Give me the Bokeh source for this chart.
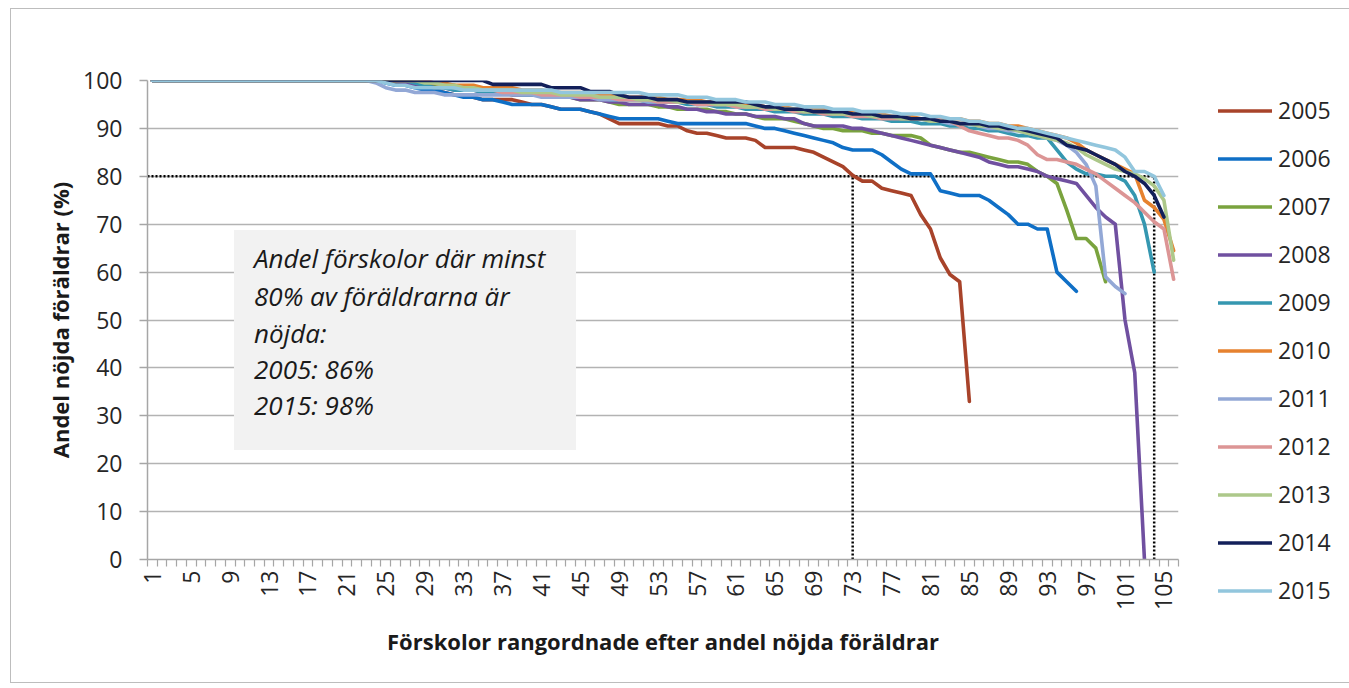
import math
from bokeh.plotting import figure
from bokeh.models import Range1d, FixedTicker, Legend, LegendItem, Label, BoxAnnotation
from bokeh.embed import file_html
from bokeh.resources import INLINE

# ---------------- data ----------------
years = ["2005", "2006", "2007", "2008", "2009", "2010", "2011", "2012", "2013", "2014", "2015"]
colors = ["#a8432a", "#0f6fc6", "#7aa33e", "#7050a0", "#3597b0", "#e6822f",
          "#93a8d6", "#dc9595", "#adc88a", "#13205a", "#92c6dd"]

y2005 = [100, 100, 100, 100, 100, 100, 100, 100, 100, 100,
         100, 100, 100, 100, 100, 100, 100, 100, 100, 100,
         100, 100, 100, 100, 100, 99.5, 99, 99, 98.5, 98,
         97.5, 97, 97, 96.5, 96, 96, 96, 96, 95.5, 95,
         95, 94.5, 94, 94, 94, 93.5, 93, 92, 91, 91,
         91, 91, 91, 90.5, 90.5, 89.5, 89, 89, 88.5, 88,
         88, 88, 87.5, 86, 86, 86, 86, 85.5, 85, 84,
         83, 82, 80.2, 79, 79, 77.5, 77, 76.5, 76, 72,
         69, 63, 59.5, 58, 33]
y2006 = [100, 100, 100, 100, 100, 100, 100, 100, 100, 100,
         100, 100, 100, 100, 100, 100, 100, 100, 100, 100,
         100, 100, 100, 100, 99.5, 99, 99, 98.5, 98, 98,
         97.5, 97, 96.5, 96.5, 96, 96, 95.5, 95, 95, 95,
         95, 94.5, 94, 94, 94, 93.5, 93, 92.5, 92, 92,
         92, 92, 92, 91.5, 91, 91, 91, 91, 91, 91,
         91, 91, 90.5, 90, 90, 89.5, 89, 88.5, 88, 87.5,
         87, 86, 85.5, 85.5, 85.5, 84.5, 83, 81.5, 80.5, 80.5,
         80.5, 77, 76.5, 76, 76, 76, 75, 73.5, 72, 70,
         70, 69, 69, 60, 58, 56]
y2007 = [100, 100, 100, 100, 100, 100, 100, 100, 100, 100,
         100, 100, 100, 100, 100, 100, 100, 100, 100, 100,
         100, 100, 100, 100, 100, 100, 100, 99.5, 99.5, 99,
         99, 99, 98.5, 98, 98, 97.5, 97.5, 97, 97, 97,
         97, 96.5, 96.5, 96.5, 96, 96, 96, 95.5, 95, 95,
         95, 95, 94.5, 94.5, 94, 94, 94, 94, 93.5, 93.5,
         93, 93, 92.5, 92, 92, 92, 91.5, 91, 90.5, 90,
         90, 89.5, 89.5, 89.5, 89, 89, 88.5, 88.5, 88.5, 88,
         86.5, 86, 85.5, 85, 85, 84.5, 84, 83.5, 83, 83,
         82.5, 81, 80, 78.5, 73, 67, 67, 65, 58]
y2008 = [100, 100, 100, 100, 100, 100, 100, 100, 100, 100,
         100, 100, 100, 100, 100, 100, 100, 100, 100, 100,
         100, 100, 100, 100, 100, 100, 99.5, 99, 99, 98.5,
         98.5, 98, 98, 98, 97.5, 97.5, 97.5, 97, 97, 97,
         97, 96.5, 96.5, 96.5, 96, 96, 96, 95.5, 95.5, 95,
         95, 95, 95, 94.5, 94.5, 94, 94, 93.5, 93.5, 93,
         93, 93, 92.5, 92.5, 92.5, 92, 92, 91, 90.5, 90.5,
         90.5, 90.5, 90, 90, 89.5, 89, 88.5, 88, 87.5, 87,
         86.5, 86, 85.5, 85, 84.5, 84, 83, 82.5, 82, 82,
         81.5, 81, 80, 79.5, 79, 78.5, 76, 73.5, 71.5, 70,
         50, 39, 0]
y2009 = [100, 100, 100, 100, 100, 100, 100, 100, 100, 100,
         100, 100, 100, 100, 100, 100, 100, 100, 100, 100,
         100, 100, 100, 100, 100, 100, 100, 99.5, 99, 98.5,
         98.5, 98, 98, 98, 97.5, 97.5, 97.5, 97.5, 97, 97,
         97, 97, 97, 96.5, 96.5, 96.5, 96.5, 96, 96, 96,
         96, 95.5, 95.5, 95.5, 95.5, 95, 95, 95, 94.5, 94.5,
         94.5, 94, 94, 94, 93.5, 93.5, 93.5, 93, 93, 93,
         92.5, 92.5, 92.5, 92, 92, 92, 91.5, 91.5, 91.5, 91,
         91, 91, 90.5, 90.5, 90, 90, 89.5, 89.5, 89, 88.5,
         88.5, 88, 88, 85.5, 83, 81.5, 80.5, 80.5, 80, 80,
         79, 76, 70, 60]
y2010 = [100, 100, 100, 100, 100, 100, 100, 100, 100, 100,
         100, 100, 100, 100, 100, 100, 100, 100, 100, 100,
         100, 100, 100, 100, 100, 100, 100, 100, 100, 99.5,
         99.5, 99, 99, 99, 98.5, 98.5, 98.5, 98.5, 98, 98,
         98, 97.5, 97.5, 97.5, 97.5, 97, 97, 97, 97, 96.5,
         96.5, 96.5, 96.5, 96, 96, 96, 96, 95.5, 95.5, 95.5,
         95, 95, 95, 94.5, 94.5, 94.5, 94, 94, 94, 94,
         93.5, 93.5, 93.5, 93, 93, 93, 92.5, 92.5, 92.5, 92,
         92, 92, 92, 92, 91.5, 91.5, 91, 91, 90.5, 90.5,
         90, 89.5, 89, 88.5, 88, 87, 85.5, 84.5, 83.5, 82.5,
         81.5, 80.5, 75, 73.5, 71, 64.5]
y2011 = [100, 100, 100, 100, 100, 100, 100, 100, 100, 100,
         100, 100, 100, 100, 100, 100, 100, 100, 100, 100,
         100, 100, 100, 99.5, 98.5, 98, 98, 97.5, 97.5, 97.5,
         97, 97, 97, 97, 97, 97, 97, 97, 97, 97,
         96.5, 96.5, 96.5, 96.5, 96.5, 96.5, 96, 96, 96, 96,
         96, 95.5, 95.5, 95.5, 95.5, 95.5, 95, 95, 95, 95,
         94.5, 94.5, 94.5, 94.5, 94.5, 94, 94, 94, 93.5, 93.5,
         93.5, 93, 93, 93, 93, 92.5, 92.5, 92.5, 92, 92,
         91.5, 91.5, 91, 91, 91, 90.5, 90, 90, 89.5, 89.5,
         89, 88.5, 88, 87.5, 86.5, 85, 82.5, 78, 59, 57,
         55.5]
y2012 = [100, 100, 100, 100, 100, 100, 100, 100, 100, 100,
         100, 100, 100, 100, 100, 100, 100, 100, 100, 100,
         100, 100, 100, 100, 100, 100, 100, 100, 100, 99.5,
         99, 98.5, 98.5, 98, 98, 98, 97.5, 97.5, 97.5, 97.5,
         97, 97, 97, 97, 96.5, 96.5, 96.5, 96.5, 96, 96,
         96, 96, 95.5, 95.5, 95.5, 95.5, 95, 95, 95, 95,
         94.5, 94.5, 94.5, 94, 94, 94, 93.5, 93.5, 93.5, 93,
         93, 93, 92.5, 92.5, 92.5, 92, 92, 92, 92, 92,
         92, 92, 91.5, 90.5, 89.5, 89, 88.5, 88, 88, 87.5,
         86.5, 84.5, 83.5, 83.5, 83, 82.5, 81.5, 80.5, 79, 77.5,
         76, 74.5, 72.5, 70.5, 69, 58.5]
y2013 = [100, 100, 100, 100, 100, 100, 100, 100, 100, 100,
         100, 100, 100, 100, 100, 100, 100, 100, 100, 100,
         100, 100, 100, 100, 100, 100, 100, 100, 99.5, 99.5,
         99, 99, 98.5, 98.5, 98, 98, 98, 98, 97.5, 97.5,
         97.5, 97.5, 97, 97, 97, 97, 96.5, 96.5, 96.5, 96.5,
         96, 96, 96, 96, 95.5, 95.5, 95.5, 95.5, 95, 95,
         95, 94.5, 94.5, 94.5, 94, 94, 94, 93.5, 93.5, 93.5,
         93, 93, 93, 93, 92.5, 92.5, 92.5, 92, 92, 92,
         91.5, 91.5, 91.5, 91, 91, 90.5, 90.5, 90, 90, 89.5,
         89, 88.5, 88, 87.5, 87, 86, 84.5, 83.5, 82.5, 81.5,
         81, 80.5, 79.5, 78, 75, 62.5]
y2014 = [100, 100, 100, 100, 100, 100, 100, 100, 100, 100,
         100, 100, 100, 100, 100, 100, 100, 100, 100, 100,
         100, 100, 100, 100, 100, 100, 100, 100, 100, 100,
         100, 100, 100, 100, 100, 99.2, 99.2, 99.2, 99.2, 99.2,
         99.2, 98.5, 98.5, 98.5, 98.5, 97.7, 97.7, 97.7, 97, 96.5,
         96.5, 96.5, 96, 96, 96, 95.5, 95.5, 95.5, 95.5, 95.5,
         95.5, 95.5, 95, 94.5, 94.5, 94, 94, 94, 93.5, 93.5,
         93.5, 93.5, 93, 93, 93, 92.5, 92.5, 92.5, 92, 92,
         92, 91.5, 91.5, 91, 91, 91, 90.5, 90.5, 90, 90,
         89.5, 89, 88.5, 88, 86.5, 86, 85.5, 84.5, 83.5, 82.5,
         81, 80, 78.5, 76, 71.5]
y2015 = [100, 100, 100, 100, 100, 100, 100, 100, 100, 100,
         100, 100, 100, 100, 100, 100, 100, 100, 100, 100,
         100, 100, 100, 100, 99.5, 99, 99, 98.5, 98.5, 98.5,
         98.5, 98.5, 98, 98, 98, 98, 98, 98, 98, 98,
         98, 98, 97.5, 97.5, 97.5, 97.5, 97.5, 97.5, 97.5, 97.5,
         97.5, 97, 97, 97, 97, 96.5, 96.5, 96.5, 96, 96,
         96, 95.5, 95.5, 95.5, 95, 95, 95, 94.5, 94.5, 94.5,
         94, 94, 94, 93.5, 93.5, 93.5, 93.5, 93, 93, 93,
         92.5, 92.5, 92, 92, 91.5, 91.5, 91, 91, 90.5, 90,
         90, 89.5, 89, 88.5, 88, 87.5, 87, 86.5, 86, 85.5,
         84, 81, 81, 80, 76]

series = [y2005, y2006, y2007, y2008, y2009, y2010, y2011, y2012, y2013, y2014, y2015]

x_tick_labels = [1, 5, 9, 13, 17, 21, 25, 29, 33, 37, 41, 45, 49, 53, 57, 61, 65, 69, 73, 77, 81, 85, 89, 93, 97, 101, 105]
y_ticks = [0, 10, 20, 30, 40, 50, 60, 70, 80, 90, 100]
n_categories = 106
threshold = 80

x_title = "Förskolor rangordnade efter andel nöjda föräldrar"
y_title = "Andel nöjda föräldrar (%)"
note_lines = ["Andel förskolor där minst", "80% av föräldrarna är", "nöjda:", "2005: 86%", "2015: 98%"]

FONT = "Open Sans"
TXT = "#262626"
AXIS = "#a6a6a6"

# ---------------- figure ----------------
p = figure(frame_width=1031, frame_height=479,
           x_range=Range1d(0.5, n_categories + 0.5), y_range=Range1d(0, 100),
           output_backend="svg", toolbar_location=None,
           min_border_left=136, min_border_right=160, min_border_top=71, min_border_bottom=123,
           background_fill_color="white", border_fill_color="white")
p.outline_line_color = None
p.styles = {"border": "1.5px solid #bdbdbd", "margin-left": "10px", "margin-top": "8px"}

# grid
p.xgrid.visible = False
p.ygrid.ticker = FixedTicker(ticks=y_ticks)
p.ygrid.grid_line_color = "#b3b3b3"
p.ygrid.grid_line_width = 1.5

# y axis
p.yaxis.ticker = FixedTicker(ticks=y_ticks)
p.yaxis.axis_line_color = AXIS
p.yaxis.axis_line_width = 1.5
p.yaxis.major_tick_line_color = AXIS
p.yaxis.major_tick_line_width = 1.5
p.yaxis.major_tick_out = 8
p.yaxis.major_tick_in = 0
p.yaxis.minor_tick_line_color = None
p.yaxis.major_label_standoff = 17
p.yaxis.major_label_text_font = FONT
p.yaxis.major_label_text_font_size = "23px"
p.yaxis.major_label_text_color = TXT
p.yaxis.axis_label = y_title
p.yaxis.axis_label_text_font = FONT
p.yaxis.axis_label_text_font_style = "bold"
p.yaxis.axis_label_text_font_size = "22px"
p.yaxis.axis_label_text_color = "#1a1a1a"
p.yaxis.axis_label_standoff = 5

# x axis
minor = [k + 0.5 for k in range(0, n_categories + 1)]
p.xaxis.ticker = FixedTicker(ticks=x_tick_labels, minor_ticks=minor)
p.xaxis.axis_line_color = AXIS
p.xaxis.axis_line_width = 1.5
p.xaxis.major_tick_line_color = None
p.xaxis.major_tick_out = 7
p.xaxis.major_tick_in = 0
p.xaxis.minor_tick_line_color = AXIS
p.xaxis.minor_tick_line_width = 1.2
p.xaxis.minor_tick_out = 7
p.xaxis.minor_tick_in = 0
p.xaxis.major_label_orientation = math.pi / 2
p.xaxis.major_label_standoff = 4
p.xaxis.major_label_text_font = FONT
p.xaxis.major_label_text_font_size = "23px"
p.xaxis.major_label_text_color = TXT
p.xaxis.axis_label = x_title
p.xaxis.axis_label_text_font = FONT
p.xaxis.axis_label_text_font_style = "bold"
p.xaxis.axis_label_text_font_size = "22px"
p.xaxis.axis_label_text_color = "#1a1a1a"
p.xaxis.axis_label_standoff = 13

# reference dotted lines derived from the data
idx2005 = max(i + 1 for i, v in enumerate(y2005) if v >= threshold)
idx2015 = max(i + 1 for i, v in enumerate(y2015) if v >= threshold)
dot = dict(line_color="black", line_width=2.5, line_dash="2 2")
p.line(x=[0.5, idx2015], y=[threshold, threshold], **dot)
p.line(x=[idx2005, idx2005], y=[0, threshold], **dot)
p.line(x=[idx2015, idx2015], y=[0, threshold], **dot)

# series
items = []
for yr, col, vals in zip(years, colors, series):
    xs = list(range(1, len(vals) + 1))
    r = p.line(x=xs, y=vals, line_color=col, line_width=3.6, line_join="round", line_cap="round")
    items.append(LegendItem(label=yr, renderers=[r]))

legend = Legend(items=items, location=(40, -47), orientation="vertical",
                glyph_width=54, glyph_height=31, label_height=31, spacing=16,
                padding=0, margin=0, border_line_color=None, background_fill_alpha=0,
                label_text_font=FONT, label_text_font_size="23px", label_text_color=TXT,
                label_standoff=6)
p.add_layout(legend, "right")

# note box
p.add_layout(BoxAnnotation(left=9.39, right=44.56, bottom=22.86, top=68.8,
                           fill_color="#f2f2f2", fill_alpha=1.0, line_color=None))
note_y = [63.0, 55.1, 47.2, 39.7, 32.2]
for txt, yy in zip(note_lines, note_y):
    p.add_layout(Label(x=11.45, y=yy, text=txt, text_align="left", text_baseline="middle",
                       text_font=FONT, text_font_style="italic", text_font_size="26px",
                       text_color="#1a1a1a"))

open("out.html", "w").write(file_html(p, INLINE))
